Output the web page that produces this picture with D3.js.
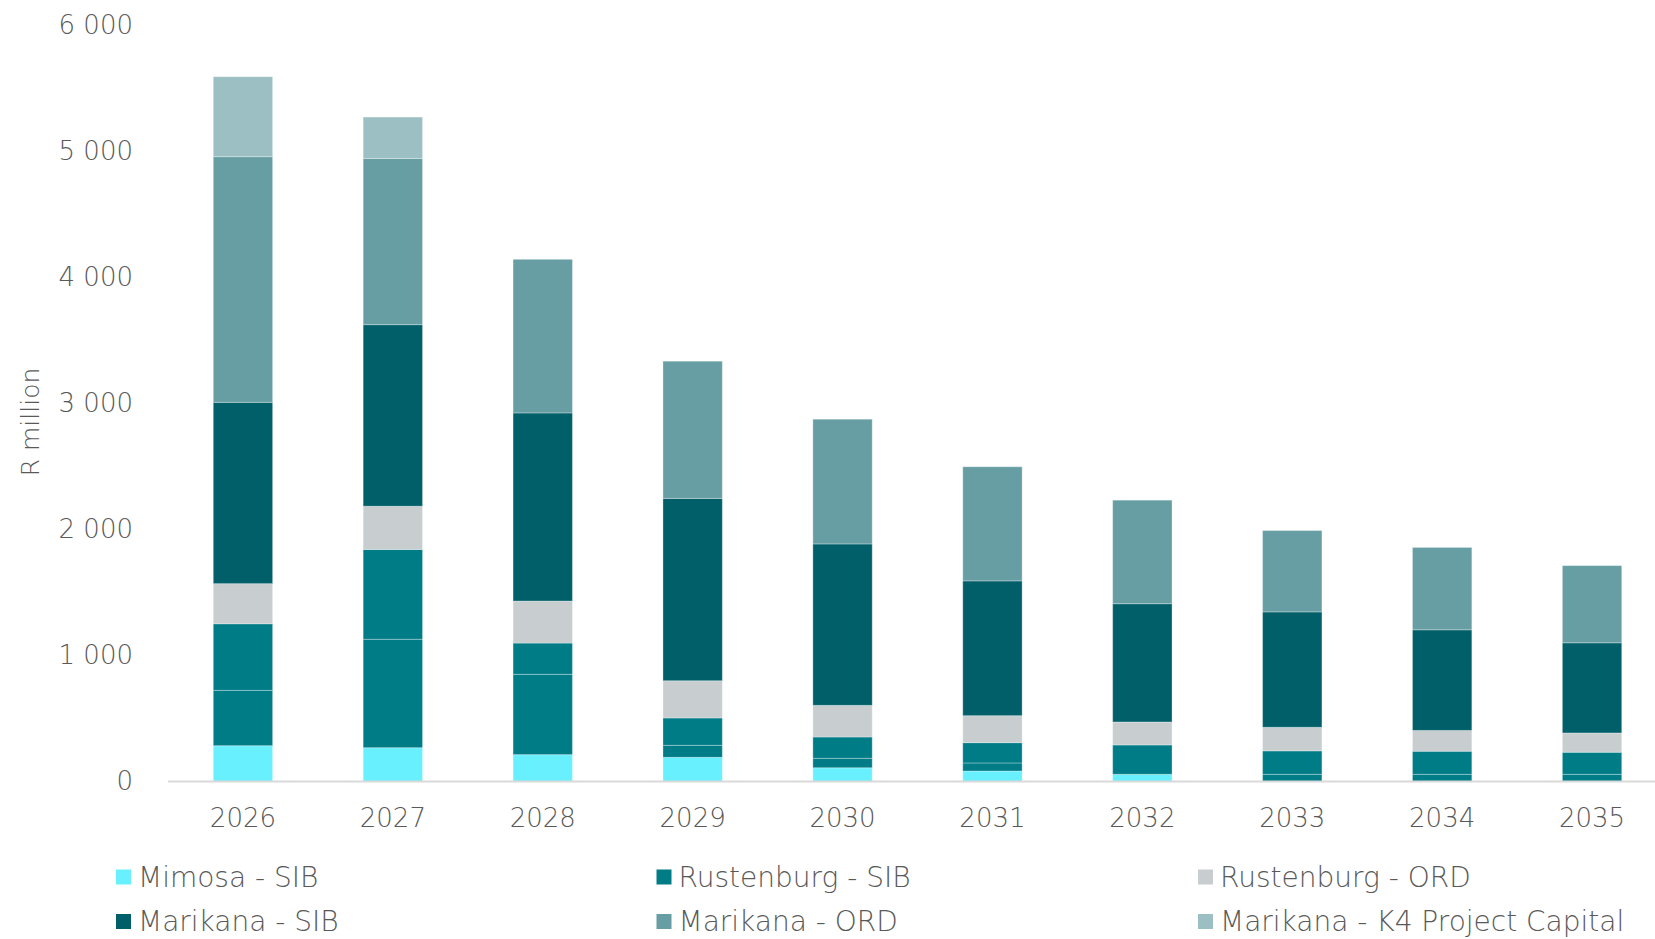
<!DOCTYPE html>
<html>
<head>
<meta charset="utf-8">
<script src="https://cdn.jsdelivr.net/npm/d3@7"></script>
<style>
  html, body { margin: 0; padding: 0; background: #ffffff; }
  svg { display: block; }
  text { font-family: "Century Gothic", "DejaVu Sans", sans-serif; font-weight: 300; fill: #595959; }
</style>
</head>
<body>
<svg id="chart" width="1655" height="939"></svg>
<script>
// ---- data ----
const years = ["2026","2027","2028","2029","2030","2031","2032","2033","2034","2035"];
const mimosaSIB      = [284, 268, 213, 192, 109,  83,  57,   0,   0,   0];
const rustenburgSIBa = [439, 860, 637,  95,  75,  64,   0,  57,  57,  57];
const rustenburgSIBb = [528, 712, 248, 217, 169, 161, 233, 186, 183, 175];
const rustenburgORD  = [318, 343, 333, 295, 251, 214, 182, 187, 165, 153];
const marikanaSIB    = [1438, 1440, 1492, 1446, 1280, 1069, 938, 915, 798, 715];
const marikanaORD    = [1948, 1318, 1218, 1088, 989, 905, 821, 645, 653, 612];
const marikanaK4     = [634, 328, 0, 0, 0, 0, 0, 0, 0, 0];
const yTicks = [0, 1000, 2000, 3000, 4000, 5000, 6000];
const yTitle = "R million";

const seriesDefs = [
  { key: "Mimosa - SIB", values: mimosaSIB, color: "#69F0FF" },
  { key: "Rustenburg - SIB", values: rustenburgSIBa, color: "#007C87" },
  { key: "Rustenburg - SIB (2)", values: rustenburgSIBb, color: "#007C87" },
  { key: "Rustenburg - ORD", values: rustenburgORD, color: "#C8CDD0" },
  { key: "Marikana - SIB", values: marikanaSIB, color: "#005F69" },
  { key: "Marikana - ORD", values: marikanaORD, color: "#679EA3" },
  { key: "Marikana - K4 Project Capital", values: marikanaK4, color: "#9BBFC3" }
];
const legendOrder = ["Mimosa - SIB","Rustenburg - SIB","Rustenburg - ORD","Marikana - SIB","Marikana - ORD","Marikana - K4 Project Capital"];

// ---- table ----
const table = years.map((y, i) => {
  const row = { year: y };
  seriesDefs.forEach(s => { row[s.key] = s.values[i]; });
  return row;
});

const svg = d3.select("#chart");
const x = d3.scaleBand().domain(years).range([168, 1667]).paddingInner(0.604).paddingOuter(0.302);
const y = d3.scaleLinear().domain([0, 6000]).range([781.5, 24.9]);

const stack = d3.stack().keys(seriesDefs.map(s => s.key));
const stacked = stack(table);
const colorOf = new Map(seriesDefs.map(s => [s.key, s.color]));

// bars
const g = svg.append("g");
g.selectAll("g.series").data(stacked).join("g")
  .attr("class", "series")
  .attr("fill", d => colorOf.get(d.key))
  .selectAll("rect").data(d => d.filter(p => p[1] - p[0] > 0)).join("rect")
  .attr("x", d => x(d.data.year))
  .attr("width", x.bandwidth())
  .attr("y", d => y(d[1]))
  .attr("height", d => y(d[0]) - y(d[1]))
  .attr("stroke", "rgba(255,255,255,0.3)")
  .attr("stroke-width", 1);

// baseline
svg.append("line")
  .attr("x1", 168).attr("x2", 1655)
  .attr("y1", y(0)).attr("y2", y(0))
  .attr("stroke", "#D9D9D9").attr("stroke-width", 2);

// y axis
const loc = d3.formatLocale({ decimal: ".", thousands: " ", grouping: [3], currency: ["", ""] });
const fmt = loc.format(",");
const yAxis = d3.axisLeft(y).tickValues(yTicks).tickFormat(fmt).tickSize(0).tickPadding(0);
const yg = svg.append("g").attr("transform", "translate(133,0)").call(yAxis);
yg.select(".domain").remove();
yg.selectAll("text").attr("font-size", 26).attr("fill", "#595959")
  .style("font-family", "'Century Gothic', 'DejaVu Sans', sans-serif").style("font-weight", 300);

// x axis
const xAxis = d3.axisBottom(x).tickSize(0).tickPadding(0);
const xg = svg.append("g").attr("transform", "translate(0,818)").call(xAxis);
xg.select(".domain").remove();
xg.selectAll("text").attr("font-size", 26).attr("dy", "0.35em").attr("fill", "#595959")
  .style("font-family", "'Century Gothic', 'DejaVu Sans', sans-serif").style("font-weight", 300);

// y title
svg.append("text")
  .attr("transform", "translate(30,422) rotate(-90)")
  .attr("text-anchor", "middle")
  .attr("dy", "0.35em")
  .attr("font-size", 25)
  .text(yTitle);

// legend
const colX = [116, 656.5, 1198];
const rowY = [877, 921.5];
const lg = svg.append("g");
legendOrder.forEach((k, i) => {
  const cx = colX[i % 3], cy = rowY[Math.floor(i / 3)];
  lg.append("rect").attr("x", cx).attr("y", cy - 7.5).attr("width", 15).attr("height", 15)
    .attr("fill", colorOf.get(k));
  lg.append("text").attr("x", cx + 22).attr("y", cy).attr("dy", "0.35em")
    .attr("font-size", 28).text(k);
});
</script>
</body>
</html>
